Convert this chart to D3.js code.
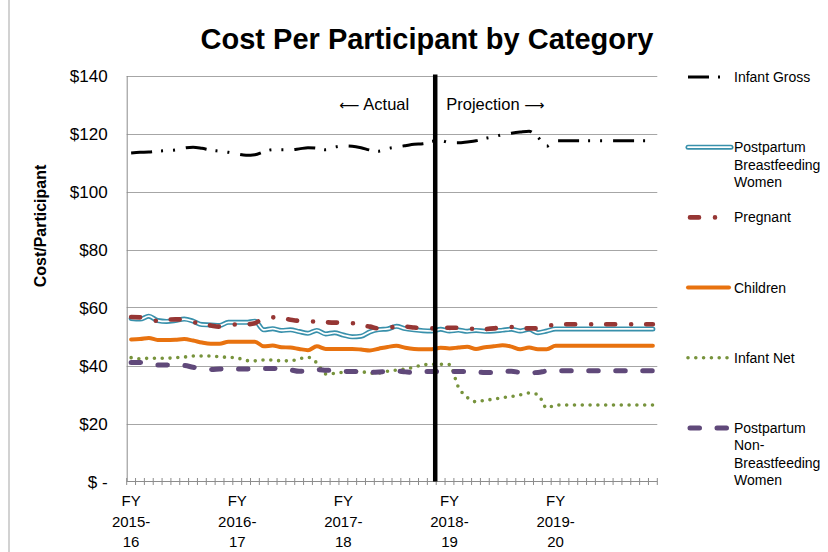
<!DOCTYPE html>
<html>
<head>
<meta charset="utf-8">
<script src="https://cdn.jsdelivr.net/npm/d3@7/dist/d3.min.js"></script>
<style>
  html, body { margin: 0; padding: 0; background: #fff; }
  svg { display: block; font-family: "Liberation Sans", Arial, sans-serif; }
</style>
</head>
<body>
<svg id="chart" width="828" height="552"></svg>
<script>
// Monthly categories, July 2015 through June 2020 (fiscal years 2015-16 .. 2019-20)
const months = d3.timeMonths(new Date(2015, 6, 1), new Date(2020, 6, 1)).map(d3.timeFormat("%b %Y"));

// Fiscal-year labels shown under the first month of each year
const fyLabelIndex = [0, 12, 24, 36, 48];
const fyLabels = [["FY", "2015-", "16"], ["FY", "2016-", "17"], ["FY", "2017-", "18"], ["FY", "2018-", "19"], ["FY", "2019-", "20"]];

// First projected month
const projectionStart = "Jun 2018";

const yTicks = [0, 20, 40, 60, 80, 100, 120, 140];

const seriesNames = ["Infant Gross", "Postpartum Breastfeeding Women", "Pregnant", "Children", "Infant Net", "Postpartum Non-Breastfeeding Women"];

const infantGross = [113.3, 113.5, 113.6, 113.9, 114.1, 114.3, 115.0, 115.3, 114.9, 114.3,
                     113.9, 113.5, 112.9, 112.5, 112.7, 113.7, 114.4, 114.4, 114.4, 114.7,
                     115.1, 114.9, 114.4, 115.3, 115.7, 115.6, 115.1, 114.3, 113.9, 114.8,
                     115.3, 115.8, 116.3, 116.5, 117.3, 117.5, 116.9, 116.8, 117.1, 117.5,
                     118.3, 118.9, 119.6, 120.1, 120.5, 120.8, 118.7, 115.6, 117.5, 117.5,
                     117.5, 117.5, 117.5, 117.5, 117.5, 117.5, 117.5, 117.5, 117.5, 117.5];

const postpartumBF = [56.2, 56.0, 57.0, 55.5, 55.2, 55.5, 56.0, 55.3, 54.1, 54.0,
                      53.8, 54.9, 54.9, 54.9, 55.3, 52.3, 52.7, 52.1, 52.3, 51.7,
                      51.1, 52.1, 50.9, 51.3, 50.5, 49.9, 50.1, 51.6, 52.4, 52.6,
                      53.5, 52.7, 52.3, 52.0, 51.9, 52.5, 51.9, 52.2, 51.8, 52.1,
                      51.8, 51.9, 52.2, 52.5, 51.9, 52.5, 51.3, 51.9, 52.6, 52.6,
                      52.6, 52.6, 52.6, 52.6, 52.6, 52.6, 52.6, 52.6, 52.6, 52.6];

const pregnant = [56.7, 56.6, 56.0, 55.4, 55.8, 55.9, 55.9, 55.0, 54.3, 53.8,
                  53.4, 53.8, 54.2, 54.2, 54.6, 56.3, 56.6, 56.3, 55.8, 55.4,
                  55.3, 55.1, 54.9, 54.8, 54.8, 54.6, 53.8, 53.4, 52.8, 53.1,
                  53.3, 53.4, 53.1, 52.8, 52.8, 53.0, 53.0, 53.0, 53.2, 52.3,
                  52.5, 52.8, 53.2, 53.3, 52.8, 52.8, 52.8, 53.7, 54.0, 54.2,
                  54.2, 54.2, 54.2, 54.2, 54.2, 54.2, 54.2, 54.2, 54.2, 54.2];

const children = [49.0, 49.1, 49.5, 48.8, 48.8, 48.9, 49.1, 48.6, 47.9, 47.5,
                  47.5, 48.2, 48.2, 48.2, 48.2, 46.6, 46.9, 46.3, 46.2, 45.7,
                  45.3, 46.6, 45.7, 45.7, 45.7, 45.7, 45.5, 45.2, 45.8, 46.4,
                  46.8, 46.1, 45.7, 45.6, 45.6, 46.1, 45.9, 46.2, 46.5, 45.7,
                  46.3, 46.6, 47.0, 46.5, 45.6, 46.2, 45.6, 45.6, 46.8, 46.8,
                  46.8, 46.8, 46.8, 46.8, 46.8, 46.8, 46.8, 46.8, 46.8, 46.8];

const infantNet = [42.7, 42.3, 42.5, 42.5, 42.5, 42.7, 42.9, 43.3, 43.3, 43.3,
                   43.0, 42.8, 42.6, 41.7, 41.6, 41.9, 41.9, 41.6, 41.6, 42.3,
                   42.8, 40.9, 37.1, 37.3, 37.7, 37.9, 37.9, 37.3, 37.4, 38.0,
                   38.4, 38.8, 39.4, 40.2, 40.4, 40.4, 40.3, 32.6, 29.0, 27.5,
                   28.0, 28.4, 28.9, 29.3, 29.9, 30.5, 30.0, 25.3, 26.4, 26.4,
                   26.4, 26.4, 26.4, 26.4, 26.4, 26.4, 26.4, 26.4, 26.4, 26.4];

const postpartumNonBF = [41.0, 41.0, 40.8, 40.2, 40.2, 40.0, 40.0, 39.4, 39.0, 38.6,
                         38.8, 38.9, 38.8, 38.8, 38.9, 39.0, 39.0, 38.8, 38.5, 38.0,
                         38.2, 38.6, 38.4, 38.2, 38.0, 37.9, 37.9, 37.6, 37.8, 37.9,
                         38.1, 37.8, 37.6, 37.9, 37.9, 37.9, 37.9, 37.9, 37.9, 37.8,
                         37.6, 37.6, 37.9, 38.0, 37.6, 37.5, 37.6, 38.1, 38.2, 38.2,
                         38.2, 38.2, 38.2, 38.2, 38.2, 38.2, 38.2, 38.2, 38.2, 38.2];

const seriesValues = [infantGross, postpartumBF, pregnant, children, infantNet, postpartumNonBF];

// Line styling for each series
const styles = [
  { color: "#000000", width: 3, dash: "21,9,2,10,2,11", cap: "butt" },
  { color: "#3890ab", width: 5, dash: null, cap: "round", double: true },
  { color: "#963634", width: 4.6, dash: "9,16,0,15", cap: "round" },
  { color: "#e8720f", width: 4, dash: null, cap: "round" },
  { color: "#77933c", width: 3.6, dash: "0,7.8", cap: "round" },
  { color: "#60497a", width: 5, dash: "9.5,17.5", cap: "round" }
];
// Where each legend sample line ends
const legendSampleEnd = [724, 731, 718, 729, 729, 729];

const svg = d3.select("#chart");
const plot = { left: 126.7, right: 657.3, top: 75.5, bottom: 481.5 };

// Left edge of the chart frame
svg.append("line").attr("x1", 9).attr("x2", 9).attr("y1", 0).attr("y2", 552)
  .attr("stroke", "#b4b4b4").attr("stroke-width", 1.2);

const x = d3.scaleBand().domain(months).range([plot.left, plot.right]).paddingInner(0).paddingOuter(0);
const y = d3.scaleLinear().domain([0, 140]).range([plot.bottom, plot.top]);
const cx = i => x(months[i]) + x.bandwidth() / 2;

// Title
svg.append("text").attr("x", 427).attr("y", 49).attr("text-anchor", "middle")
  .attr("font-size", 29).attr("font-weight", "bold").attr("fill", "#000")
  .text("Cost Per Participant by Category");

// Horizontal gridlines
svg.append("g").selectAll("line").data(yTicks.filter(d => d > 0)).join("line")
  .attr("x1", plot.left).attr("x2", plot.right)
  .attr("y1", d => Math.round(y(d)) + 0.5).attr("y2", d => Math.round(y(d)) + 0.5)
  .attr("stroke", "#a6a6a6").attr("stroke-width", 1);

// Y axis line from d3.axisLeft; labels placed explicitly to the left of it
const yAxis = svg.append("g").attr("transform", `translate(${plot.left},0)`)
  .call(d3.axisLeft(y).tickValues(yTicks).tickSize(0).tickFormat(""));
yAxis.select(".domain").attr("stroke", "#8c8c8c");
svg.append("g").selectAll("text").data(yTicks).join("text")
  .attr("x", plot.left - 19).attr("y", d => y(d) + 6)
  .attr("text-anchor", "end").attr("font-size", 17).attr("fill", "#000")
  .text(d => d === 0 ? "$ -" : "$" + d);

// Y axis title
svg.append("text").attr("transform", "translate(46,226) rotate(-90)")
  .attr("text-anchor", "middle").attr("font-size", 16).attr("font-weight", "bold")
  .text("Cost/Participant");

// X axis with tick marks between monthly categories
const xAxisG = svg.append("g");
xAxisG.append("line").attr("x1", plot.left).attr("x2", plot.right)
  .attr("y1", plot.bottom).attr("y2", plot.bottom).attr("stroke", "#8c8c8c");
const boundaries = months.map(m => x(m)).concat([x.range()[1]]);
xAxisG.selectAll("line.tick").data(boundaries).join("line").attr("class", "tick")
  .attr("x1", d => d).attr("x2", d => d)
  .attr("y1", plot.bottom - 3.5).attr("y2", plot.bottom + 3.5)
  .attr("stroke", "#8c8c8c").attr("stroke-width", 1);

const fyText = xAxisG.selectAll("text.fy").data(fyLabelIndex).join("text").attr("class", "fy")
  .attr("text-anchor", "middle").attr("font-size", 15).attr("fill", "#000");
fyText.each(function (idx, k) {
  const t = d3.select(this);
  fyLabels[k].forEach((s, j) => {
    t.append("tspan").attr("x", cx(idx)).attr("y", 506 + j * 20.5).text(s);
  });
});

// Series lines
const line = d3.line().x((d, i) => cx(i)).y(d => y(d)).curve(d3.curveMonotoneX);
const linesG = svg.append("g");
seriesValues.forEach((vals, k) => {
  const s = styles[k];
  const p = linesG.append("path").datum(vals).attr("d", line)
    .attr("fill", "none").attr("stroke", s.color).attr("stroke-width", s.width)
    .attr("stroke-linecap", s.cap).attr("stroke-linejoin", "round");
  if (s.dash) p.attr("stroke-dasharray", s.dash);
  if (s.double) {
    linesG.append("path").datum(vals).attr("d", line)
      .attr("fill", "none").attr("stroke", "#fff").attr("stroke-width", 1.7)
      .attr("stroke-linecap", "round").attr("stroke-linejoin", "round");
  }
});

// Divider between actual and projected months
const splitX = x(projectionStart) - 1;
svg.append("line").attr("x1", splitX).attr("x2", splitX)
  .attr("y1", y(140) - 1).attr("y2", y(0))
  .attr("stroke", "#000").attr("stroke-width", 4.5);

const actual = svg.append("text").attr("x", splitX - 26).attr("y", 110).attr("text-anchor", "end")
  .attr("font-size", 16.5).attr("fill", "#000");
actual.append("tspan").attr("font-family", "DejaVu Sans").attr("font-size", 14).text("\u27F5");
actual.append("tspan").text(" Actual");
const proj = svg.append("text").attr("x", splitX + 11).attr("y", 110).attr("text-anchor", "start")
  .attr("font-size", 16.5).attr("fill", "#000");
proj.append("tspan").text("Projection ");
proj.append("tspan").attr("font-family", "DejaVu Sans").attr("font-size", 14).text("\u27F6");

// Legend
const legendLines = [["Infant Gross"], ["Postpartum", "Breastfeeding", "Women"], ["Pregnant"], ["Children"], ["Infant Net"], ["Postpartum", "Non-", "Breastfeeding", "Women"]];
const legendTop = 77, legendStep = 70.2;
const legend = svg.append("g");
seriesNames.forEach((name, k) => {
  const s = styles[k];
  const cy = legendTop + k * legendStep;
  const sample = legend.append("line").attr("x1", k === 2 || k === 5 ? 690 : 688).attr("x2", legendSampleEnd[k])
    .attr("y1", cy).attr("y2", cy)
    .attr("stroke", s.color).attr("stroke-width", s.width).attr("stroke-linecap", s.cap);
  if (s.dash) sample.attr("stroke-dasharray", s.dash);
  if (s.double) {
    legend.append("line").attr("x1", 688).attr("x2", legendSampleEnd[k]).attr("y1", cy).attr("y2", cy)
      .attr("stroke", "#fff").attr("stroke-width", 1.7).attr("stroke-linecap", "round");
  }
  const t = legend.append("text").attr("font-size", 14).attr("fill", "#000");
  legendLines[k].forEach((s2, j) => {
    t.append("tspan").attr("x", 734).attr("y", cy + 5 + j * 17.4).text(s2);
  });
});
</script>
</body>
</html>
